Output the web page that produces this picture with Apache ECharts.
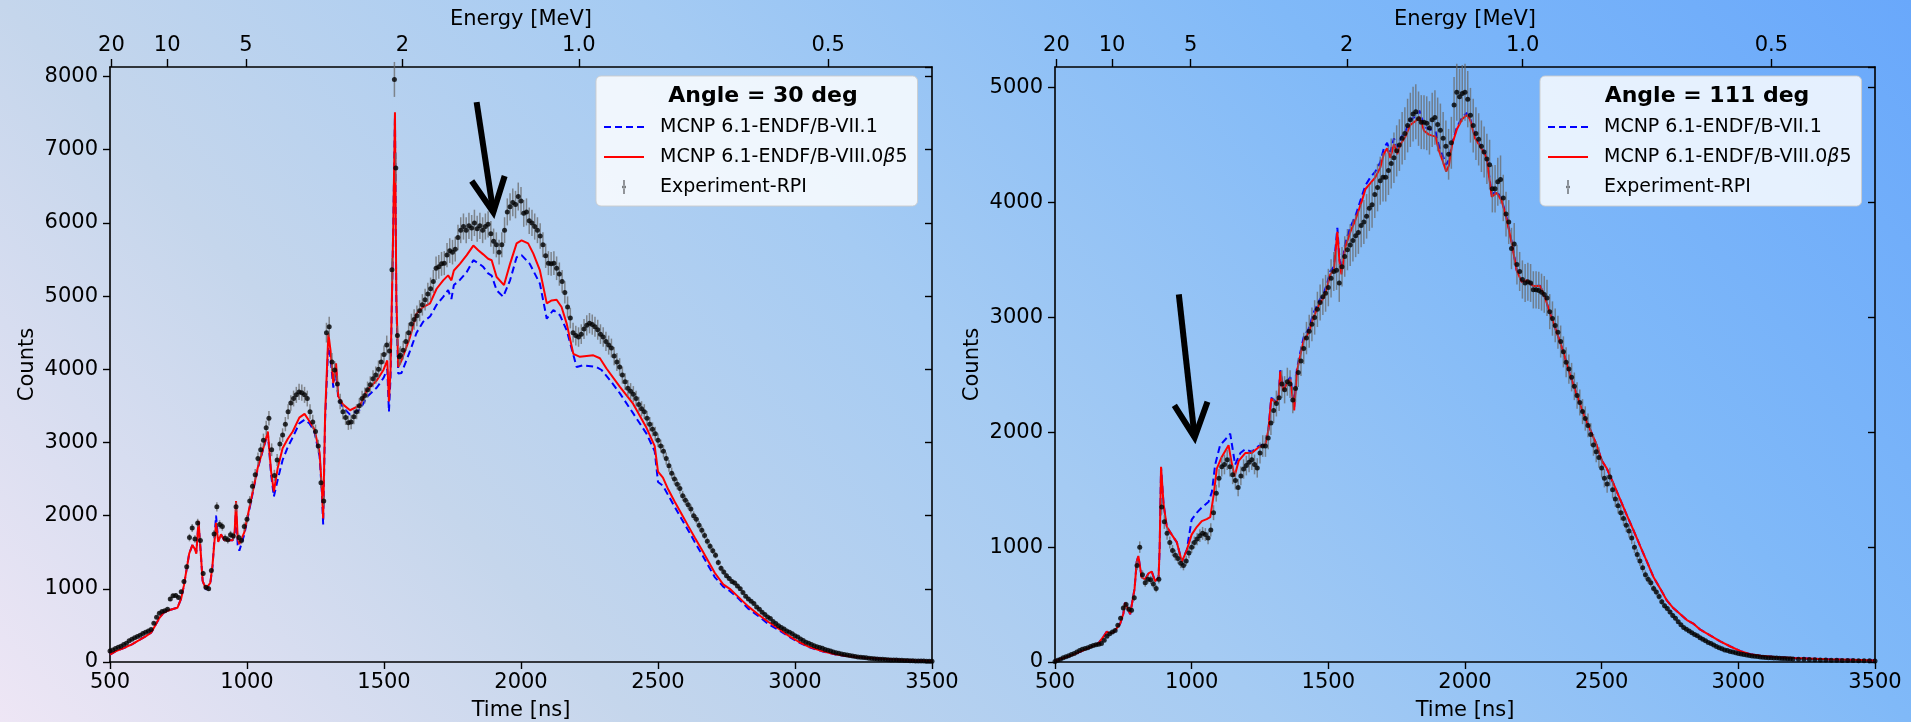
<!DOCTYPE html>
<html>
<head>
<meta charset="utf-8">
<script src="https://cdn.jsdelivr.net/npm/echarts@6/dist/echarts.min.js"></script>
<style>
  html, body { margin: 0; padding: 0; }
  #chart { width: 1911px; height: 722px; }
</style>
</head>
<body>
<div id="chart"></div>
<script>
// ---- Axis definitions -------------------------------------------------
const TIME_MIN = 500, TIME_MAX = 3500, TIME_STEP = 500;
const ENERGY_TICKS_MEV = [20, 10, 5, 2, 1.0, 0.5];
const ENERGY_TICK_LABELS = ['20', '10', '5', '2', '1.0', '0.5'];
// time of flight [ns] = offset + K / sqrt(E [MeV])
const TOF_OFFSET_NS = 14, TOF_K = 2197;
const Y_MAX_30 = 8130, Y_MAX_111 = 5180;

const SERIES_VII = 'MCNP 6.1-ENDF/B-VII.1';
const SERIES_VIII = 'MCNP 6.1-ENDF/B-VIII.0β5';
const SERIES_EXP = 'Experiment-RPI';

// ---- Angle = 30 deg ---------------------------------------------------
const exp30 = [
[500,150],[510,165],[520,185],[530,200],[540,215],[550,240],[560,255],[570,290],[580,310],[590,330],
[600,350],[610,365],[620,390],[630,405],[640,425],[650,445],[660,530],[670,610],[680,665],[690,690],
[700,700],[710,720],[720,860],[730,905],[740,910],[750,880],[760,960],[770,1100],[780,1300],[790,1700],
[800,1830],[810,1680],[820,1900],[830,1660],[840,1210],[850,1020],[860,1000],[870,1250],[880,1750],[890,2120],
[900,1880],[910,1850],[920,1690],[930,1670],[940,1740],[950,1720],[960,2120],[970,1700],[980,1660],[990,1850],
[1000,1950],[1010,2200],[1020,2400],[1030,2560],[1040,2780],[1050,2900],[1060,3030],[1070,3200],[1080,3330],[1090,2900],
[1100,2550],[1110,2760],[1120,2980],[1130,3100],[1140,3250],[1150,3420],[1160,3540],[1170,3600],[1180,3650],[1190,3690],
[1200,3680],[1210,3650],[1220,3600],[1230,3420],[1240,3280],[1250,3150],[1260,2950],[1270,2450],[1280,2200],[1290,4500],
[1300,4580],[1310,4100],[1320,3990],[1330,3800],[1340,3560],[1350,3420],[1360,3340],[1370,3270],[1380,3280],[1390,3350],
[1400,3420],[1410,3500],[1420,3600],[1430,3640],[1440,3720],[1450,3790],[1460,3870],[1470,3920],[1480,4000],[1490,4100],
[1500,4200],[1510,4330],[1520,4250],[1529,5360],[1538,7960],[1543,6750],[1549,4460],[1556,4170],[1560,4190],[1570,4260],
[1580,4380],[1590,4500],[1600,4620],[1610,4680],[1620,4730],[1630,4800],[1640,4880],[1650,4950],[1660,5030],[1670,5100],
[1680,5200],[1690,5380],[1700,5400],[1710,5440],[1720,5450],[1730,5560],[1740,5620],[1750,5600],[1760,5640],[1770,5800],
[1780,5900],[1790,5950],[1800,5900],[1810,5960],[1820,5930],[1830,6000],[1840,5920],[1850,5960],[1860,5900],[1870,5950],
[1880,5980],[1890,5850],[1900,5750],[1910,5700],[1920,5600],[1930,5700],[1940,5900],[1950,6150],[1960,6220],[1970,6280],
[1980,6250],[1990,6360],[2000,6300],[2010,6130],[2020,6150],[2030,6030],[2040,6000],[2050,5950],[2060,5900],[2070,5820],
[2080,5700],[2090,5550],[2100,5450],[2110,5440],[2120,5450],[2130,5380],[2140,5300],[2150,5200],[2160,5050],[2170,4850],
[2180,4700],[2190,4500],[2200,4460],[2210,4440],[2220,4480],[2230,4550],[2240,4600],[2250,4630],[2260,4610],[2270,4580],
[2280,4540],[2290,4480],[2300,4440],[2310,4380],[2320,4330],[2330,4290],[2340,4180],[2350,4100],[2360,4030],[2370,3920],
[2380,3830],[2390,3740],[2400,3700],[2410,3660],[2420,3600],[2430,3520],[2440,3460],[2450,3420],[2460,3330],[2470,3250],
[2480,3180],[2490,3120],[2500,3030],[2510,2950],[2520,2880],[2530,2780],[2540,2680],[2550,2580],[2560,2500],[2570,2430],
[2580,2370],[2590,2270],[2600,2210],[2610,2150],[2620,2090],[2630,2000],[2640,1950],[2650,1870],[2660,1800],[2670,1730],
[2680,1650],[2690,1580],[2700,1520],[2710,1460],[2720,1360],[2730,1280],[2740,1230],[2750,1180],[2760,1140],[2770,1100],
[2780,1080],[2790,1040],[2800,1000],[2810,950],[2820,900],[2830,860],[2840,830],[2850,800],[2860,750],[2870,720],
[2880,680],[2890,650],[2900,615],[2910,595],[2920,555],[2930,525],[2940,495],[2950,470],[2960,450],[2970,425],
[2980,405],[2990,385],[3000,360],[3010,340],[3020,315],[3030,295],[3040,270],[3050,255],[3060,238],[3070,222],
[3080,210],[3090,198],[3100,188],[3110,172],[3120,160],[3130,150],[3140,138],[3150,128],[3160,118],[3170,110],
[3180,102],[3190,96],[3200,90],[3210,82],[3220,75],[3230,70],[3240,65],[3250,60],[3260,57],[3270,52],
[3280,48],[3290,44],[3300,40],[3310,38],[3320,36],[3330,33],[3340,31],[3350,29],[3360,28],[3370,27],
[3380,25],[3390,23],[3400,21],[3410,19],[3420,18],[3430,16],[3440,15],[3450,14],[3460,13],[3470,12],
[3480,11],[3490,10],[3500,10]
];
const vii30 = [
[500,100],[520,145],[550,190],[580,240],[600,285],[630,350],[650,400],[665,500],[680,600],[695,670],
[710,700],[730,725],[746,740],[760,870],[770,1050],[789,1480],[801,1600],[810,1560],[815,1500],[823,1900],
[830,1560],[838,1110],[850,990],[866,1070],[874,1300],[887,2000],[895,1660],[905,1745],[917,1665],[948,1665],
[955,1750],[960,2100],[966,1600],[972,1520],[990,1740],[1015,2200],[1039,2640],[1063,2960],[1076,3130],[1088,2560],
[1098,2260],[1112,2490],[1130,2760],[1149,2940],[1167,3070],[1191,3260],[1210,3310],[1228,3260],[1246,3150],[1265,2810],
[1273,2330],[1278,1880],[1285,3300],[1297,4380],[1305,4150],[1315,3750],[1325,4000],[1333,3600],[1350,3480],[1376,3380],
[1413,3450],[1437,3620],[1474,3750],[1498,3880],[1512,4000],[1518,3420],[1524,3900],[1534,6000],[1540,7450],[1545,4900],
[1552,3940],[1564,3950],[1595,4250],[1619,4500],[1643,4650],[1668,4720],[1692,4880],[1716,4990],[1734,5080],[1746,4960],
[1755,5150],[1777,5220],[1802,5330],[1826,5490],[1844,5450],[1862,5400],[1880,5310],[1893,5280],[1911,5080],[1935,4990],
[1960,5215],[1984,5530],[2002,5560],[2032,5440],[2069,5170],[2094,4690],[2118,4810],[2142,4740],[2167,4530],[2203,4030],
[2227,4055],[2276,4030],[2294,3990],[2325,3850],[2361,3670],[2409,3400],[2458,3120],[2488,2880],[2500,2460],[2518,2410],
[2537,2280],[2561,2120],[2585,1960],[2610,1800],[2634,1640],[2659,1480],[2683,1320],[2707,1160],[2738,1030],[2762,970],
[2793,870],[2829,730],[2866,630],[2902,520],[2939,440],[2976,350],[3012,270],[3049,205],[3098,148],[3146,104],
[3195,79],[3256,57],[3317,42],[3378,31],[3439,21],[3500,14]
];
const viii30 = [
[500,100],[520,145],[550,190],[580,240],[600,285],[630,350],[650,400],[665,500],[680,600],[695,670],
[710,700],[730,725],[746,740],[760,870],[770,1050],[789,1480],[801,1600],[810,1540],[815,1480],[823,1930],
[830,1560],[838,1110],[850,1000],[866,1080],[874,1320],[887,1900],[895,1640],[905,1745],[917,1665],[948,1665],
[955,1780],[960,2200],[966,1690],[972,1610],[990,1770],[1015,2220],[1039,2650],[1063,2970],[1076,3150],[1088,2600],
[1098,2330],[1112,2650],[1130,2920],[1149,3050],[1167,3150],[1191,3340],[1210,3390],[1228,3290],[1246,3180],[1265,2860],
[1273,2380],[1278,1960],[1285,3370],[1297,4490],[1305,4250],[1315,3810],[1325,4080],[1333,3630],[1350,3520],[1376,3440],
[1413,3510],[1437,3710],[1474,3850],[1498,3990],[1512,4120],[1518,3560],[1524,4000],[1534,6000],[1540,7510],[1545,5000],
[1552,4030],[1564,4120],[1595,4440],[1619,4760],[1643,4850],[1668,4900],[1692,5100],[1716,5215],[1734,5283],[1746,5215],
[1755,5350],[1777,5440],[1802,5560],[1826,5690],[1844,5625],[1862,5570],[1880,5510],[1893,5490],[1911,5260],[1938,5150],
[1960,5440],[1984,5720],[2002,5760],[2026,5720],[2045,5580],[2069,5350],[2094,4900],[2112,4940],[2130,4950],[2148,4850],
[2167,4620],[2191,4210],[2215,4170],[2264,4190],[2288,4150],[2312,4010],[2361,3760],[2409,3530],[2458,3200],[2488,2950],
[2500,2600],[2518,2520],[2537,2360],[2561,2190],[2585,2030],[2610,1860],[2634,1700],[2659,1540],[2683,1380],[2707,1220],
[2738,1060],[2762,1000],[2793,890],[2829,760],[2866,650],[2902,550],[2939,460],[2976,360],[3012,280],[3049,210],
[3098,150],[3146,105],[3195,80],[3256,58],[3317,43],[3378,32],[3439,21],[3500,14]
];

// ---- Angle = 111 deg --------------------------------------------------
const exp111 = [
[500,5],[510,15],[520,25],[530,38],[540,45],[550,55],[560,65],[570,75],[580,88],[590,100],
[600,112],[610,118],[620,125],[630,135],[640,143],[650,150],[660,155],[670,162],[680,190],[690,225],
[700,245],[710,262],[720,275],[730,320],[740,380],[750,470],[760,500],[770,460],[780,450],[790,560],
[800,840],[810,1000],[820,760],[830,690],[840,720],[850,715],[860,680],[870,640],[880,720],[890,1350],
[900,1220],[910,1120],[920,1040],[930,970],[940,930],[950,900],[960,860],[970,840],[980,880],[990,950],
[1000,1000],[1010,1040],[1020,1070],[1030,1100],[1040,1120],[1050,1110],[1060,1080],[1070,1150],[1080,1300],[1090,1470],
[1100,1600],[1110,1700],[1120,1720],[1130,1760],[1140,1700],[1150,1630],[1160,1580],[1170,1520],[1180,1620],[1190,1680],
[1200,1710],[1210,1740],[1220,1760],[1230,1720],[1240,1690],[1250,1820],[1260,1880],[1270,1880],[1280,1950],[1290,2080],
[1300,2190],[1310,2250],[1320,2300],[1330,2420],[1340,2370],[1350,2440],[1360,2420],[1370,2280],[1380,2380],[1390,2520],
[1400,2620],[1410,2730],[1420,2820],[1430,2880],[1440,2940],[1450,3000],[1460,3070],[1470,3130],[1480,3180],[1490,3210],
[1500,3260],[1510,3340],[1520,3400],[1530,3410],[1540,3300],[1550,3440],[1560,3530],[1570,3590],[1580,3630],[1590,3670],
[1600,3710],[1610,3740],[1620,3800],[1630,3830],[1640,3880],[1650,3950],[1660,3980],[1670,4070],[1680,4130],[1690,4190],
[1700,4220],[1710,4220],[1720,4280],[1730,4340],[1740,4390],[1750,4450],[1760,4500],[1770,4560],[1780,4600],[1790,4670],
[1800,4720],[1810,4770],[1820,4790],[1830,4730],[1840,4700],[1850,4700],[1860,4690],[1870,4650],[1880,4720],[1890,4740],
[1900,4680],[1910,4630],[1920,4560],[1930,4490],[1940,4420],[1950,4520],[1960,4850],[1970,4960],[1980,4920],[1990,4950],
[2000,4960],[2010,4900],[2020,4760],[2030,4670],[2040,4600],[2050,4550],[2060,4490],[2070,4440],[2080,4380],[2090,4330],
[2100,4120],[2110,4120],[2120,4180],[2130,4200],[2140,4040],[2150,3900],[2160,3830],[2170,3600],[2180,3640],[2190,3460],
[2200,3400],[2210,3330],[2220,3300],[2230,3310],[2240,3300],[2250,3240],[2260,3240],[2270,3235],[2280,3220],[2290,3200],
[2300,3170],[2310,3050],[2320,2990],[2330,2930],[2340,2870],[2350,2790],[2360,2700],[2370,2610],[2380,2550],[2390,2480],
[2400,2400],[2410,2320],[2420,2260],[2430,2180],[2440,2120],[2450,2060],[2460,1980],[2470,1890],[2480,1830],[2490,1780],
[2500,1690],[2510,1600],[2520,1550],[2530,1610],[2540,1500],[2550,1420],[2560,1360],[2570,1300],[2580,1250],[2590,1190],
[2600,1140],[2610,1080],[2620,1000],[2630,935],[2640,880],[2650,820],[2660,760],[2670,720],[2680,690],[2690,640],
[2700,610],[2710,570],[2720,525],[2730,490],[2740,465],[2750,435],[2760,405],[2770,380],[2780,350],[2790,325],
[2800,300],[2810,285],[2820,270],[2830,255],[2840,240],[2850,228],[2860,212],[2870,198],[2880,185],[2890,170],
[2900,160],[2910,148],[2920,136],[2930,125],[2940,115],[2950,105],[2960,100],[2970,92],[2980,86],[2990,80],
[3000,75],[3010,70],[3020,65],[3030,61],[3040,57],[3050,53],[3060,50],[3070,47],[3080,44],[3090,42],
[3100,40],[3110,38],[3120,36],[3130,35],[3140,34],[3150,33],[3160,31],[3170,30],[3180,29],[3190,28],
[3200,27],[3220,25],[3240,23],[3260,21],[3280,20],[3300,18],[3320,17],[3340,16],[3360,15],[3380,14],
[3400,13],[3420,12],[3440,11],[3460,10],[3480,10],[3500,9]
];
const viii111 = [
[500,10],[550,50],[598,95],[659,162],[680,230],[689,264],[700,250],[715,260],[738,331],[750,420],
[756,517],[765,470],[775,416],[791,636],[799,872],[805,923],[817,737],[830,720],[842,771],[854,788],
[866,703],[879,737],[883,1000],[888,1700],[897,1379],[909,1177],[927,1109],[946,1041],[964,872],[982,974],
[1000,1109],[1019,1177],[1037,1227],[1055,1244],[1068,1261],[1080,1447],[1092,1684],[1110,1785],[1135,1887],[1145,1751],
[1157,1616],[1172,1751],[1196,1819],[1220,1819],[1245,1870],[1269,1887],[1281,2022],[1291,2292],[1306,2258],[1318,2292],
[1324,2529],[1336,2360],[1349,2428],[1361,2461],[1375,2191],[1385,2529],[1397,2664],[1410,2800],[1428,2867],[1446,3002],
[1465,3104],[1483,3171],[1495,3256],[1507,3374],[1520,3408],[1533,3746],[1541,3476],[1548,3374],[1562,3611],[1581,3746],
[1599,3848],[1623,4017],[1636,4118],[1654,4169],[1672,4219],[1690,4304],[1703,4422],[1715,4473],[1727,4389],[1740,4507],
[1752,4422],[1764,4507],[1782,4574],[1800,4676],[1819,4710],[1834,4744],[1850,4625],[1868,4591],[1892,4574],[1904,4456],
[1917,4372],[1931,4270],[1941,4321],[1953,4507],[1971,4642],[1990,4727],[2006,4760],[2018,4727],[2037,4558],[2055,4490],
[2079,4389],[2098,4050],[2116,4084],[2134,4017],[2153,3848],[2171,3645],[2189,3408],[2208,3307],[2226,3323],[2250,3273],
[2275,3273],[2293,3171],[2311,3036],[2336,2867],[2360,2698],[2385,2495],[2409,2326],[2434,2157],[2458,2022],[2482,1887],
[2501,1751],[2519,1684],[2544,1548],[2568,1413],[2592,1278],[2617,1143],[2641,1008],[2666,872],[2690,737],[2715,636],
[2739,534],[2763,467],[2788,416],[2812,365],[2837,331],[2861,281],[2898,230],[2934,179],[2971,135],[3008,95],
[3044,68],[3081,54],[3142,41],[3203,34],[3325,24],[3447,17],[3500,14]
];
const vii111 = [
[500,10],[550,50],[598,95],[659,162],[680,230],[689,264],[700,250],[715,260],[738,331],[750,420],
[756,517],[765,470],[775,416],[791,636],[799,872],[805,923],[817,737],[830,720],[842,771],[854,788],
[866,703],[879,737],[883,1000],[888,1690],[897,1379],[909,1177],[927,1109],[946,1041],[964,872],[982,974],
[1000,1240],[1019,1300],[1037,1345],[1062,1396],[1074,1481],[1086,1718],[1104,1887],[1123,1937],[1141,1988],[1150,1853],
[1159,1718],[1178,1819],[1196,1853],[1220,1830],[1245,1880],[1269,1895],[1281,2030],[1291,2300],[1306,2270],[1318,2300],
[1324,2540],[1336,2380],[1349,2440],[1361,2480],[1375,2220],[1385,2550],[1397,2690],[1410,2830],[1428,2900],[1446,3040],
[1465,3140],[1483,3210],[1495,3290],[1507,3400],[1520,3440],[1533,3780],[1541,3500],[1548,3420],[1562,3650],[1581,3790],
[1599,3880],[1623,4060],[1636,4150],[1654,4220],[1672,4270],[1690,4350],[1703,4470],[1715,4520],[1727,4440],[1740,4560],
[1752,4480],[1764,4560],[1782,4620],[1800,4720],[1819,4750],[1834,4800],[1850,4660],[1868,4640],[1892,4620],[1904,4500],
[1917,4420],[1931,4330],[1941,4370],[1953,4520],[1971,4660],[1990,4740],[2006,4780],[2018,4740],[2037,4570],[2055,4500],
[2079,4400],[2098,4070],[2116,4100],[2134,4030],[2153,3860],[2171,3655],[2189,3415],[2208,3310],[2226,3325],[2250,3275],
[2275,3275],[2293,3171],[2311,3036],[2336,2867],[2360,2698],[2385,2495],[2409,2326],[2434,2157],[2458,2022],[2482,1887],
[2501,1751],[2519,1684],[2544,1548],[2568,1413],[2592,1278],[2617,1143],[2641,1008],[2666,872],[2690,737],[2715,636],
[2739,534],[2763,467],[2788,416],[2812,365],[2837,331],[2861,281],[2898,230],[2934,179],[2971,135],[3008,95],
[3044,68],[3081,54],[3142,41],[3203,34],[3325,24],[3447,17],[3500,14]
];
// relative statistical uncertainty of the measured counts
const EXP_REL_ERR_30 = 0.03, EXP_REL_ERR_111 = 0.05;

// annotation arrows: tail (time, counts), head (time, counts)
const arrow30 = [1838, 7650, 1899, 6145];
const arrow111 = [953, 3200, 1011, 1955];

// ---- helpers -----------------------------------------------------------
const FONT = 'DejaVu Sans';
const energyTickTimes = ENERGY_TICKS_MEV.map(e => TOF_OFFSET_NS + TOF_K / Math.sqrt(e));
function energyLabel(v) {
  let best = 0, bd = Infinity;
  energyTickTimes.forEach((t, i) => { const d = Math.abs(t - v); if (d < bd) { bd = d; best = i; } });
  return ENERGY_TICK_LABELS[best];
}
const plainNumber = v => String(v);
const LEGEND_EXP_ICON = 'path://M4.3,0 L5.7,0 L5.7,20 L4.3,20 Z M2.4,10 A2.6,2.6 0 1 0 7.6,10 A2.6,2.6 0 1 0 2.4,10 Z';
const ARROW_WIDTH = 6, ARROW_ARM = 38, ARROW_HALF_ANGLE = 26 * Math.PI / 180;

const axisLine = { show: true, onZero: false, lineStyle: { color: '#000', width: 1.6 } };
const tickStyle = { color: '#000', width: 1.4 };
const tickLabel = { color: '#000', fontFamily: FONT, fontSize: 21 };
const nameStyle = { color: '#000', fontFamily: FONT, fontSize: 21 };

function xAxesFor(g) {
  return [
    {
      gridIndex: g, type: 'value', position: 'bottom', min: TIME_MIN, max: TIME_MAX, interval: TIME_STEP,
      name: 'Time [ns]', nameLocation: 'middle', nameGap: 38, nameTextStyle: nameStyle,
      axisLine, axisTick: { show: true, length: 7, lineStyle: tickStyle },
      axisLabel: Object.assign({ margin: 10, formatter: plainNumber }, tickLabel), splitLine: { show: false }
    },
    {
      gridIndex: g, type: 'value', position: 'top', min: TIME_MIN, max: TIME_MAX,
      name: 'Energy [MeV]', nameLocation: 'middle', nameGap: 33, nameTextStyle: nameStyle,
      axisLine,
      axisTick: { show: true, length: 8, customValues: energyTickTimes, lineStyle: tickStyle },
      axisLabel: Object.assign({ margin: 11, customValues: energyTickTimes, formatter: energyLabel }, tickLabel),
      splitLine: { show: false }
    }
  ];
}
function yAxesFor(g, ymax) {
  return [
    {
      gridIndex: g, type: 'value', position: 'left', min: 0, max: ymax, interval: 1000,
      name: 'Counts', nameLocation: 'middle', nameGap: 72, nameTextStyle: nameStyle,
      axisLine, axisTick: { show: true, length: 7, lineStyle: tickStyle },
      axisLabel: Object.assign({ margin: 12, showMaxLabel: false, formatter: plainNumber }, tickLabel),
      splitLine: { show: false }
    },
    {
      gridIndex: g, type: 'value', position: 'right', min: 0, max: ymax, interval: 1000,
      axisLine, axisTick: { show: true, inside: true, length: 7, lineStyle: tickStyle },
      axisLabel: { show: false }, splitLine: { show: false }
    }
  ];
}
function seriesFor(g, vii, viii, exp, relErr, arrow) {
  const xi = g * 2, yi = g * 2;
  return [
    {
      name: SERIES_VII, type: 'line', xAxisIndex: xi, yAxisIndex: yi, data: vii,
      symbol: 'none', z: 3, lineStyle: { color: '#0000ff', width: 2, type: [7, 4] }, itemStyle: { color: '#0000ff' }
    },
    {
      name: SERIES_VIII, type: 'line', xAxisIndex: xi, yAxisIndex: yi, data: viii,
      symbol: 'none', z: 4, lineStyle: { color: '#ff0000', width: 2 }, itemStyle: { color: '#ff0000' }
    },
    {
      name: SERIES_EXP, type: 'scatter', xAxisIndex: xi, yAxisIndex: yi, data: exp, z: 6,
      symbol: 'circle', symbolSize: 5, itemStyle: { color: '#000' }
    },
    {
      // vertical uncertainty bars of the measurement
      name: 'uncertainty', type: 'custom', xAxisIndex: xi, yAxisIndex: yi, z: 5, silent: true,
      data: exp.map(p => [p[0], p[1], p[1] * relErr]),
      renderItem: (params, api) => {
        const x = api.value(0), y = api.value(1), e = api.value(2);
        const a = api.coord([x, y - e]), b = api.coord([x, y + e]);
        return { type: 'line', shape: { x1: a[0], y1: a[1], x2: b[0], y2: b[1] },
                 style: { stroke: 'rgba(105,105,105,0.75)', lineWidth: 1.5 } };
      }
    },
    {
      // annotation arrow
      name: 'annotation', type: 'custom', xAxisIndex: xi, yAxisIndex: yi, z: 10, silent: true,
      data: [arrow],
      renderItem: (params, api) => {
        const tail = api.coord([api.value(0), api.value(1)]);
        const tip = api.coord([api.value(2), api.value(3)]);
        const dx = tail[0] - tip[0], dy = tail[1] - tip[1];
        const len = Math.hypot(dx, dy), ux = dx / len, uy = dy / len;
        const arm = ang => [tip[0] + ARROW_ARM * (ux * Math.cos(ang) - uy * Math.sin(ang)),
                            tip[1] + ARROW_ARM * (ux * Math.sin(ang) + uy * Math.cos(ang))];
        return {
          type: 'group',
          children: [
            { type: 'line', shape: { x1: tail[0], y1: tail[1], x2: tip[0], y2: tip[1] },
              style: { stroke: '#000', lineWidth: ARROW_WIDTH } },
            { type: 'polyline', shape: { points: [arm(ARROW_HALF_ANGLE), tip, arm(-ARROW_HALF_ANGLE)] },
              style: { stroke: '#000', fill: null, lineWidth: ARROW_WIDTH, lineJoin: 'miter' } }
          ]
        };
      }
    }
  ];
}
function legendFor(left) {
  return {
    left, top: 76, orient: 'vertical', itemWidth: 40, itemHeight: 14, itemGap: 8,
    padding: [40, 10, 8, 7], backgroundColor: 'rgba(255,255,255,0.82)',
    borderColor: 'rgba(204,204,204,0.9)', borderWidth: 1, borderRadius: 5,
    data: [
      { name: SERIES_VII, itemStyle: { opacity: 0 } },
      { name: SERIES_VIII, itemStyle: { opacity: 0 } },
      { name: SERIES_EXP, icon: LEGEND_EXP_ICON }
    ],
    textStyle: { color: '#000', fontFamily: FONT, fontSize: 19, lineHeight: 22, padding: [0, 0, 0, 11],
                 rich: { i: { fontStyle: 'italic', fontFamily: FONT, fontSize: 19, color: '#000' } } },
    formatter: name => name.replace('β', '{i|β}'),
    selectedMode: false
  };
}

const chart = echarts.init(document.getElementById('chart'), null, { renderer: 'canvas' });
chart.setOption({
  animation: false,
  backgroundColor: {
    type: 'linear', x: 0, y: 1, x2: 0.75, y2: -0.75,
    colorStops: [
      { offset: 0, color: '#eee6f5' },
      { offset: 0.25, color: '#c5d6ec' },
      { offset: 0.5, color: '#a5cbf3' },
      { offset: 0.75, color: '#80b9f8' },
      { offset: 1, color: '#69a8fb' }
    ]
  },
  textStyle: { fontFamily: FONT },
  title: [
    { text: 'Angle = 30 deg', left: 758, top: 80, textAlign: 'center',
      textStyle: { fontFamily: FONT, fontSize: 22, fontWeight: 'bold', color: '#000' } },
    { text: 'Angle = 111 deg', left: 1702, top: 80, textAlign: 'center',
      textStyle: { fontFamily: FONT, fontSize: 22, fontWeight: 'bold', color: '#000' } }
  ],
  legend: [legendFor(596), legendFor(1540)],
  grid: [
    { left: 110, right: 979, top: 67, bottom: 60, outerBoundsMode: 'none' },
    { left: 1055, right: 36, top: 67, bottom: 60, outerBoundsMode: 'none' }
  ],
  xAxis: [...xAxesFor(0), ...xAxesFor(1)],
  yAxis: [...yAxesFor(0, Y_MAX_30), ...yAxesFor(1, Y_MAX_111)],
  series: [
    ...seriesFor(0, vii30, viii30, exp30, EXP_REL_ERR_30, arrow30),
    ...seriesFor(1, vii111, viii111, exp111, EXP_REL_ERR_111, arrow111)
  ]
});
</script>
</body>
</html>
